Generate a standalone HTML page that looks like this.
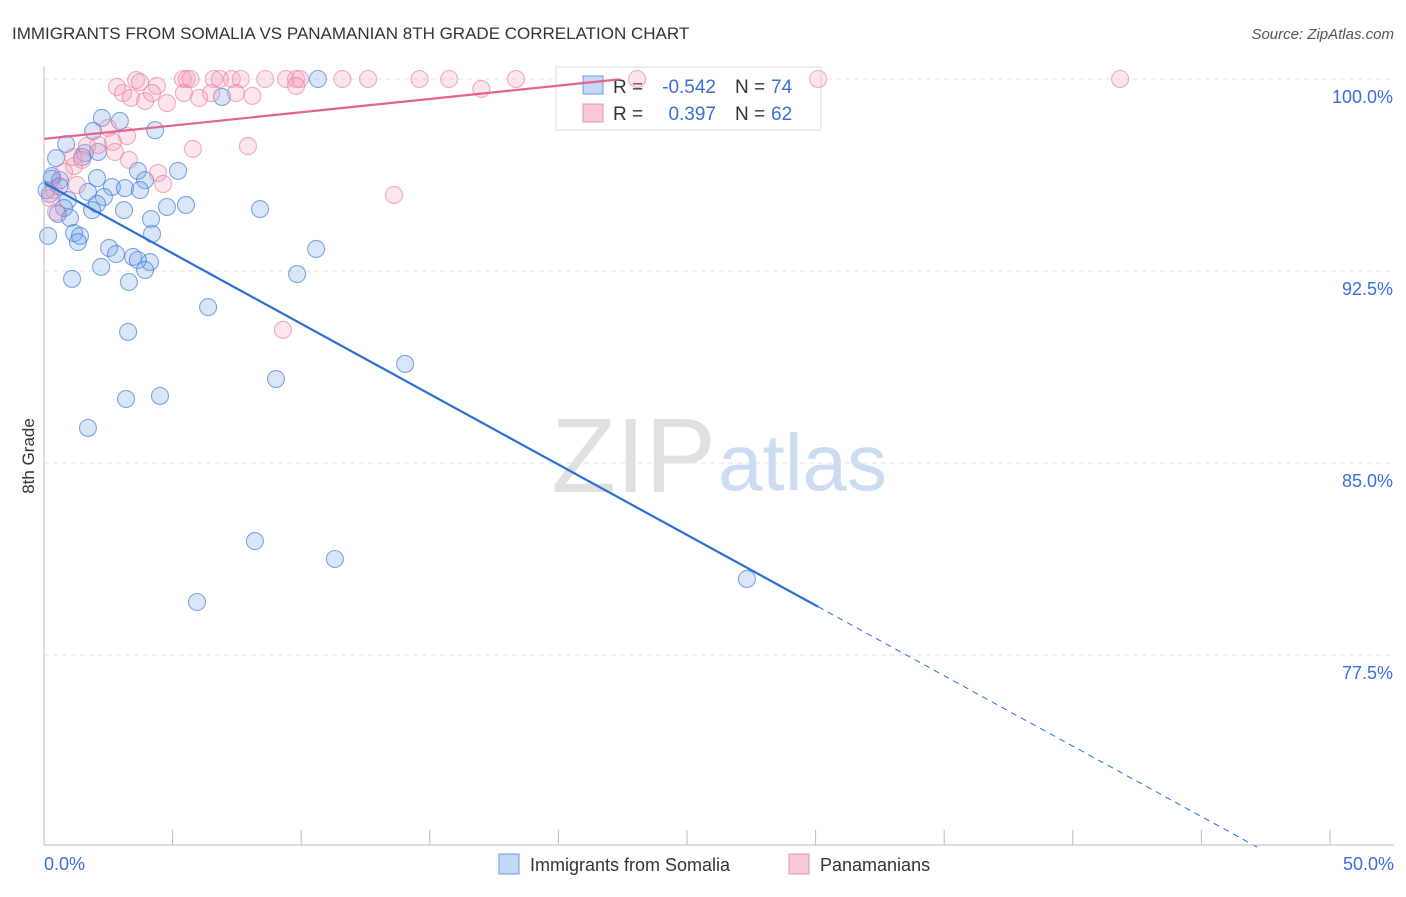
<!DOCTYPE html>
<html><head><meta charset="utf-8"><style>
body{margin:0;background:#fff;font-family:"Liberation Sans",sans-serif;}
svg text{font-family:"Liberation Sans",sans-serif;}
</style></head><body>
<svg id="chart" width="1406" height="892">
<text x="12" y="39" font-size="17" fill="#333">IMMIGRANTS FROM SOMALIA VS PANAMANIAN 8TH GRADE CORRELATION CHART</text>
<text x="1394" y="39" font-size="15" fill="#555" font-style="italic" text-anchor="end">Source: ZipAtlas.com</text>
<text x="34" y="456" font-size="17" fill="#333" text-anchor="middle" transform="rotate(-90 34 456)">8th Grade</text>
<text x="716" y="492" font-size="106" fill="#e0e0e0" text-anchor="end" font-family="Liberation Serif">ZIP</text>
<text x="718" y="490" font-size="80" fill="#cddcf2">atlas</text>
<g id="grid"></g>
<g>
<rect x="556" y="67" width="265" height="63" fill="#fff" stroke="#ddd"/>
<rect x="583" y="76" width="20" height="18" fill="#c5d8f5" stroke="#6a9ae0"/>
<rect x="583" y="104" width="20" height="18" fill="#f9c9d7" stroke="#ea8fac"/>
<text x="613" y="93" font-size="19" fill="#333">R =</text>
<text x="716" y="93" font-size="19" fill="#3a6fd8" text-anchor="end">-0.542</text>
<text x="735" y="93" font-size="19" fill="#333">N =</text>
<text x="771" y="93" font-size="19" fill="#3a6fd8">74</text>
<text x="613" y="120" font-size="19" fill="#333">R =</text>
<text x="716" y="120" font-size="19" fill="#3a6fd8" text-anchor="end">0.397</text>
<text x="735" y="120" font-size="19" fill="#333">N =</text>
<text x="771" y="120" font-size="19" fill="#3a6fd8">62</text>
</g>
<g id="pts"></g><g id="lines"></g>
<line x1="44" y1="67" x2="44" y2="845" stroke="#bbb"/>
<line x1="44" y1="845" x2="1394" y2="845" stroke="#bbb"/>
<text x="44" y="870" font-size="18" fill="#3a6fd8">0.0%</text>
<text x="1394" y="870" font-size="18" fill="#3a6fd8" text-anchor="end">50.0%</text>
<g>
<rect x="499" y="854" width="20" height="20" fill="#c5d8f5" stroke="#6a9ae0"/>
<text x="530" y="871" font-size="18" fill="#333">Immigrants from Somalia</text>
<rect x="789" y="854" width="20" height="20" fill="#f9c9d7" stroke="#ea8fac"/>
<text x="820" y="871" font-size="18" fill="#333">Panamanians</text>
</g>
</svg>
<script>
const yTicks=[100,92.5,85,77.5];
const yTickLabels=["100.0%","92.5%","85.0%","77.5%"];
const xTicks=[0,5,10,15,20,25,30,35,40,45,50];
const somaliaX=[10.65,6.92,2.25,2.95,4.32,1.91,0.86,1.59,2.1,0.47,1.48,5.21,3.65,0.31,2.06,3.93,0.62,2.64,3.15,3.73,1.71,0.23,2.33,0.93,2.06,5.52,4.78,3.11,1.87,0.78,8.4,0.54,1.01,4.16,4.2,0.16,1.17,1.4,1.32,10.58,2.53,2.8,3.46,4.12,3.65,3.93,2.22,9.84,1.09,3.3,6.38,3.27,14.04,9.02,4.51,3.19,1.71,8.2,11.31,5.95,27.33,0.1,0.3,0.6];
const somaliaY=[100,99.3,98.48,98.36,98.0,97.97,97.46,97.11,97.15,96.91,96.95,96.41,96.41,96.21,96.13,96.05,96.05,95.78,95.74,95.66,95.59,95.51,95.39,95.27,95.12,95.08,95.0,94.88,94.88,94.96,94.92,94.73,94.57,94.53,93.95,93.87,93.98,93.87,93.63,93.36,93.4,93.16,93.05,92.85,92.93,92.54,92.66,92.38,92.19,92.07,91.09,90.12,88.87,88.28,87.62,87.5,86.37,81.95,81.25,79.57,80.47,95.66,96.1,95.8];
const panamaX=[2.84,3.58,3.73,3.07,3.38,3.93,4.39,4.2,4.78,5.4,5.55,5.7,5.44,6.03,6.6,6.84,7.3,7.65,8.6,6.5,7.46,8.1,9.41,9.8,9.95,9.8,11.6,12.6,14.6,15.75,18.35,23.06,30.1,41.84,17.0,2.49,3.23,2.68,2.1,1.67,5.79,7.93,2.76,3.3,1.17,0.78,4.43,4.63,1.28,0.39,0.23,0.47,13.61,9.29,1.13,1.48];
const panamaY=[99.69,99.96,99.88,99.45,99.26,99.14,99.73,99.45,99.06,100,100,100,99.45,99.26,100,100,100,100,100,99.45,99.45,99.34,100,100,100,99.73,100,100,100,100,100,100,100,100,99.61,98.09,97.77,97.54,97.42,97.38,97.27,97.38,97.15,96.84,96.6,96.37,96.33,95.9,95.86,95.66,95.35,94.8,95.47,90.2,96.95,96.84];
const blueLine=[95.94,-0.55];
const pinkLine=[97.66,0.104];
const NS="http://www.w3.org/2000/svg";
const sx=v=>44+v*(1286/50);
const sy=v=>79+(100-v)*(192/7.5);
function mk(t,a,p){const e=document.createElementNS(NS,t);for(const k in a)e.setAttribute(k,a[k]);p.appendChild(e);return e;}
const grid=document.getElementById('grid'),pts=document.getElementById('pts'),lines=document.getElementById('lines'),svg=document.getElementById('chart');
yTicks.forEach((t,i)=>{
 const l=mk('line',{x1:44,x2:1394,y1:sy(t),y2:sy(t),stroke:'#e2e2e2','stroke-dasharray':'5,4'},grid);
 
 
 const tx=mk('text',{x:1393,y:sy(t)+24,'font-size':18,fill:'#3a6fd8','text-anchor':'end'},svg);
 tx.textContent=yTickLabels[i];
 
 
});
xTicks.forEach(t=>{
 const l=mk('line',{x1:sx(t),x2:sx(t),y1:830,y2:845,stroke:'#bbb'},grid);
 
 
});
somaliaX.forEach((x,i)=>{
 const c=mk('circle',{cx:sx(x),cy:sy(somaliaY[i]),r:8.5,fill:'rgba(120,165,230,0.28)',stroke:'rgba(50,110,210,0.6)','stroke-width':1.1},pts);
 
 
});
panamaX.forEach((x,i)=>{
 const c=mk('circle',{cx:sx(x),cy:sy(panamaY[i]),r:8.5,fill:'rgba(245,160,185,0.28)',stroke:'rgba(232,120,155,0.6)','stroke-width':1.1},pts);
 
 
});
const bf=x=>blueLine[0]+blueLine[1]*x;
const b1=mk('line',{x1:sx(0),y1:sy(bf(0)),x2:sx(30.1),y2:sy(bf(30.1)),stroke:'#2a6ed8','stroke-width':2.2},lines);


const xe=(70-blueLine[0])/blueLine[1];
const b2=mk('line',{x1:sx(30.1),y1:sy(bf(30.1)),x2:sx(xe),y2:sy(70),stroke:'#2a6ed8','stroke-width':1,'stroke-dasharray':'6,5'},lines);


const pf=x=>pinkLine[0]+pinkLine[1]*x;
const p1=mk('line',{x1:sx(0),y1:sy(pf(0)),x2:sx(22.4),y2:sy(pf(22.4)),stroke:'#e4638e','stroke-width':2.2},lines);


</script>
</body></html>
